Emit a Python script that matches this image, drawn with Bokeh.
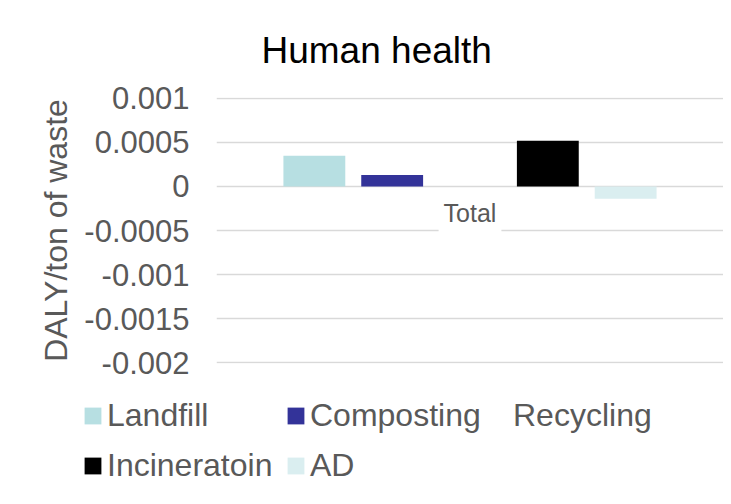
from bokeh.plotting import figure
from bokeh.models import (ColumnDataSource, FactorRange, Range1d, FixedTicker,
                          Legend, LegendItem, Title)
from bokeh.layouts import column
from bokeh.transform import dodge
from bokeh.core.properties import value
from bokeh.embed import file_html
from bokeh.resources import INLINE

# ---- data ----
categories = ["Total"]
series = ["Landfill", "Composting", "Recycling", "Incineratoin", "AD"]
landfill = [0.00035]
composting = [0.00013]
recycling = [0.0]
incineratoin = [0.00052]
ad = [-0.00014]
y_ticks = [0.001, 0.0005, 0.0, -0.0005, -0.001, -0.0015, -0.002]
y_tick_labels = ["0.001", "0.0005", "0", "-0.0005", "-0.001", "-0.0015", "-0.002"]
title_text = "Human health"
y_label = "DALY/ton of waste"
legend_rows = [["Landfill", "Composting", "Recycling"], ["Incineratoin", "AD"]]

colors = ["#b7dfe2", "#333399", "#ffffff", "#000000", "#daeef0"]
FONT = "Liberation Sans"
GREY = "#595959"

source = ColumnDataSource(data=dict(cat=categories, Landfill=landfill,
                                    Composting=composting, Recycling=recycling,
                                    Incineratoin=incineratoin, AD=ad))

p = figure(width=723, height=390, output_backend="svg", toolbar_location=None,
           x_range=FactorRange(*categories, range_padding=0),
           y_range=Range1d(-0.00201, 0.00101),
           min_border_left=216, min_border_right=0, min_border_top=97,
           min_border_bottom=27)
p.frame_align = False
p.outline_line_color = None
p.background_fill_color = "white"
p.border_fill_color = "white"

# title
p.title.text = title_text
p.title.text_font = FONT
p.title.text_font_size = "37px"
p.title.text_font_style = "normal"
p.title.text_color = "#000000"
p.title.align = "left"
p.title.offset = 45
p.title.standoff = 54

# bars
bar_w = 0.122
step = 0.1535
for i, (name, col) in enumerate(zip(series, colors)):
    off = (i - 2) * step
    p.vbar(x=dodge("cat", off, range=p.x_range), top=name, width=bar_w,
           source=source, fill_color=col, line_color=None)

# axes
p.xaxis.visible = False
yax = p.yaxis[0]
yax.ticker = FixedTicker(ticks=y_ticks)
yax.major_label_overrides = {t: s for t, s in zip(y_ticks, y_tick_labels)}
yax.axis_line_color = None
yax.major_tick_line_color = None
yax.minor_tick_line_color = None
yax.major_tick_in = 0
yax.major_tick_out = 0
yax.major_label_standoff = 27
yax.major_label_text_font = FONT
yax.major_label_text_font_size = "31px"
yax.major_label_text_color = GREY

ylab = Title(text=y_label, align="center", offset=-7, standoff=15,
             text_font=FONT, text_font_size="32px", text_font_style="normal",
             text_color=GREY)
p.add_layout(ylab, "left")

p.xgrid.visible = False
p.ygrid.grid_line_color = "#d9d9d9"
p.ygrid.grid_line_width = 1.5
p.ygrid.ticker = FixedTicker(ticks=y_ticks)

# category label with white box over the gridline
p.text(x=categories, y=[0.0] * len(categories), text=categories,
       text_font=value(FONT), text_font_size="25px", text_color=GREY,
       text_align="center", text_baseline="middle", y_offset=27,
       background_fill_color="white", padding=5)

# ---- legend strip below the chart ----
# same bars, drawn in a view window where they fall outside (only the legend shows)
p2 = figure(width=723, height=106, output_backend="svg", toolbar_location=None,
            x_range=FactorRange(*categories, range_padding=0),
            y_range=Range1d(1, 2),
            x_axis_location=None, y_axis_location=None,
            min_border_left=0, min_border_right=0, min_border_top=0,
            min_border_bottom=0)
p2.frame_align = False
p2.outline_line_color = None
p2.grid.visible = False
p2.background_fill_color = "white"
p2.border_fill_color = "white"

legend_renderers = {}
for i, (name, col) in enumerate(zip(series, colors)):
    off = (i - 2) * step
    legend_renderers[name] = p2.vbar(x=dodge("cat", off, range=p2.x_range),
                                     top=name, width=bar_w, source=source,
                                     fill_color=col, line_color=None)

row_y = [62, 12]
for names, ly in zip(legend_rows, row_y):
    items = [LegendItem(label=n, renderers=[legend_renderers[n]]) for n in names]
    lg = Legend(items=items, location=(82, ly), orientation="horizontal",
                border_line_color=None, background_fill_alpha=0,
                label_text_font=FONT, label_text_font_size="32px",
                label_text_color=GREY, glyph_width=21, glyph_height=21,
                label_standoff=4, label_width=172, padding=0, margin=0,
                spacing=6)
    p2.add_layout(lg, "center")

layout = column(p, p2, spacing=0)
open("out.html", "w").write(file_html(layout, INLINE))
